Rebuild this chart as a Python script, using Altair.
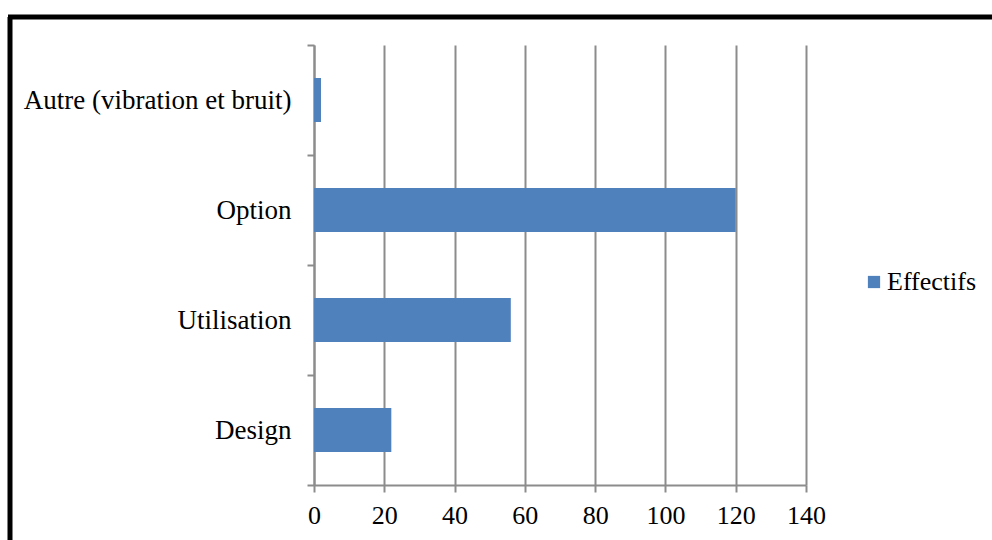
import altair as alt
import pandas as pd

# Effectifs par motif
categories = ["Autre (vibration et bruit)", "Option", "Utilisation", "Design"]
effectifs = [2, 120, 56, 22]
serie = "Effectifs"
x_ticks = [0, 20, 40, 60, 80, 100, 120, 140]

df = pd.DataFrame({"motif": categories, "effectif": effectifs, "serie": [serie] * len(categories)})

FONT = "Liberation Serif"
GRID = "#8c8c8c"

bars = alt.Chart(df).mark_bar(height=alt.RelativeBandSize(0.4)).encode(
    y=alt.Y(
        "motif:N",
        sort=categories,
        title=None,
        scale=alt.Scale(paddingInner=0, paddingOuter=0),
        axis=alt.Axis(
            tickBand="extent",
            grid=False,
            domainColor=GRID,
            domainWidth=2,
            tickColor=GRID,
            tickWidth=2,
            tickSize=7,
            labelPadding=16,
            labelLimit=0,
            labelFont=FONT,
            labelFontSize=27,
            labelColor="black",
        ),
    ),
    x=alt.X(
        "effectif:Q",
        title=None,
        scale=alt.Scale(domain=[0, 140], nice=False),
        axis=alt.Axis(
            values=x_ticks,
            grid=True,
            gridColor=GRID,
            gridWidth=2,
            domainColor=GRID,
            domainWidth=2,
            tickColor=GRID,
            tickWidth=2,
            tickSize=7,
            labelPadding=10,
            labelFlush=False,
            labelOverlap=False,
            labelFont=FONT,
            labelFontSize=26,
            labelColor="black",
        ),
    ),
    color=alt.Color(
        "serie:N",
        scale=alt.Scale(range=["#4F81BD"]),
        legend=alt.Legend(
            title=None,
            orient="none",
            legendX=547,
            legendY=224,
            symbolType="square",
            symbolSize=150,
            symbolStrokeWidth=0,
            labelFont=FONT,
            labelFontSize=26,
            labelColor="black",
            labelOffset=0,
        ),
    ),
)

# Black frame around the figure (left and top edges)
frame_data = alt.Data(values=[{}])
left_edge = alt.Chart(frame_data).mark_rule(color="black", strokeWidth=5).encode(
    x=alt.value(-304), y=alt.value(-28), y2=alt.value(520)
)
top_edge = alt.Chart(frame_data).mark_rule(color="black", strokeWidth=5).encode(
    x=alt.value(-306), x2=alt.value(700), y=alt.value(-28)
)

chart = (
    alt.layer(bars, left_edge, top_edge)
    .properties(
        width=492,
        height=440,
        autosize=alt.AutoSizeParams(type="none"),
        padding={"left": 314, "top": 45, "right": 186, "bottom": 55},
        background="white",
    )
    .configure_view(stroke=None)
)

chart.save("out.html", embed_options={"renderer": "svg", "actions": False})
